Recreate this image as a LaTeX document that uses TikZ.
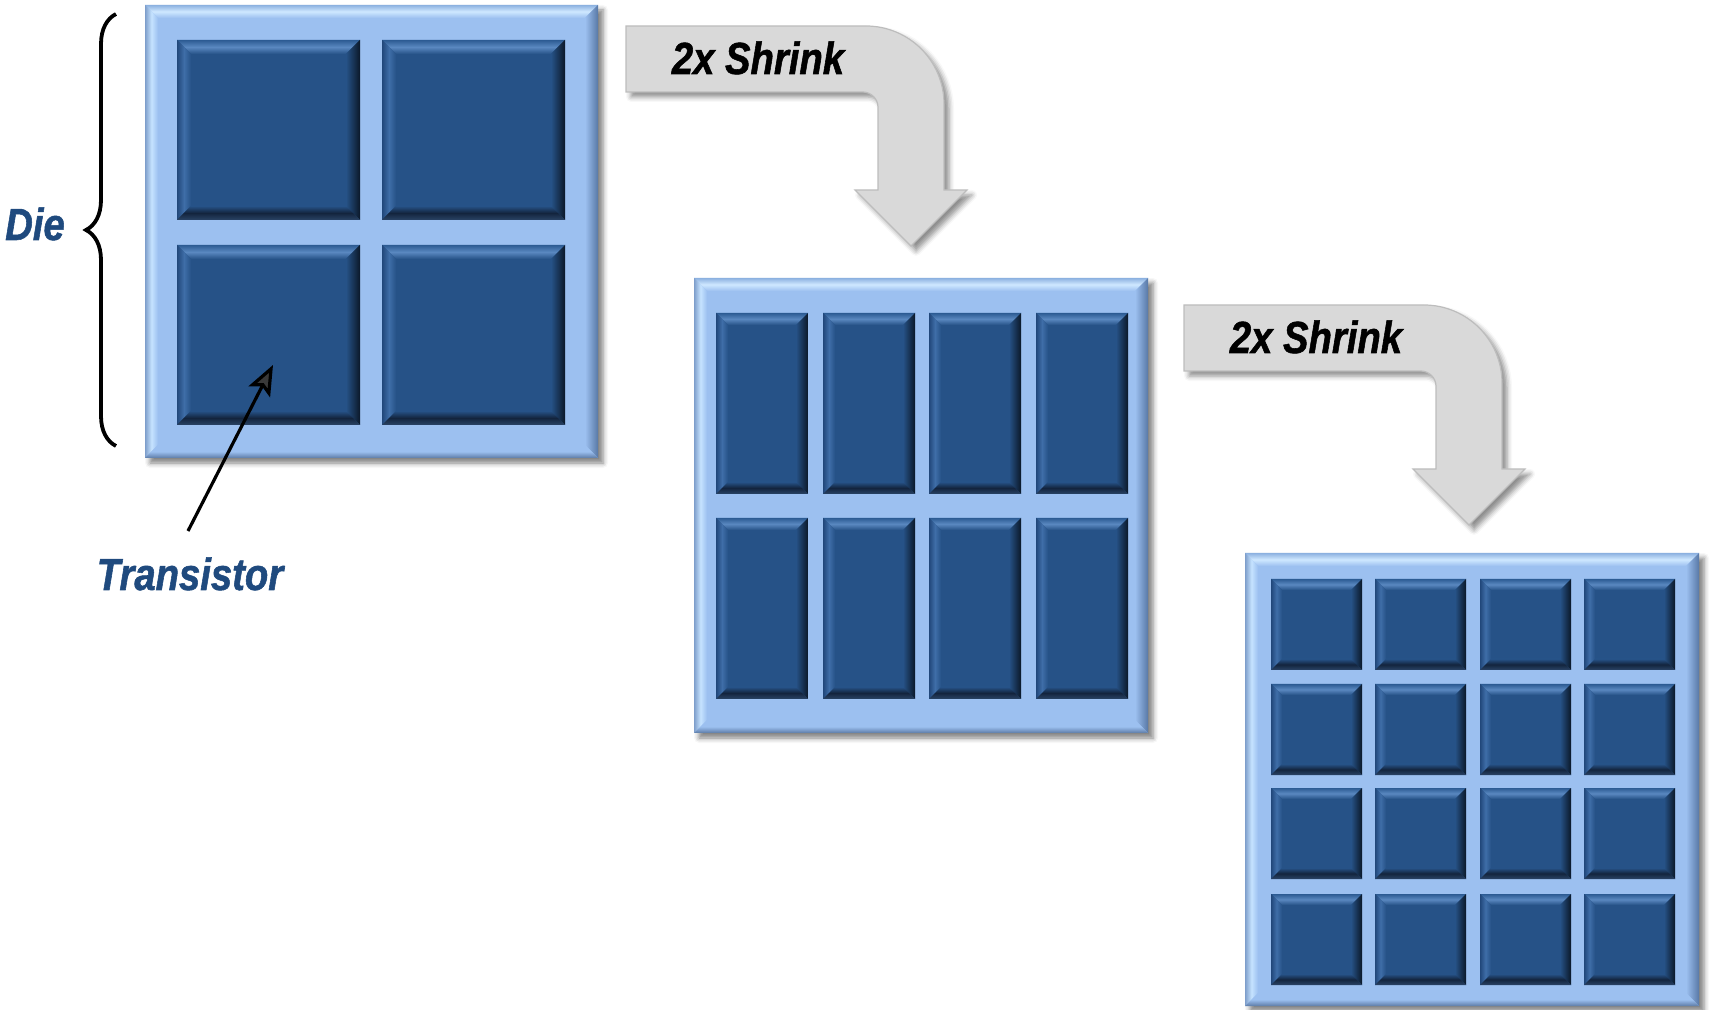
\documentclass[tikz,border=0pt]{standalone}
\usepackage{fontspec}
\newfontfamily\lblfont{Liberation Sans}[FakeStretch=0.85, FakeBold=1.2]
\usetikzlibrary{arrows.meta,decorations.pathreplacing,shadows.blur}

% die frame colours
\definecolor{dieBase}{HTML}{9CC0F0}
\definecolor{dieTopA}{HTML}{8CB1E0}
\definecolor{dieTopB}{HTML}{CFE8FF}
\definecolor{dieLeftA}{HTML}{7E9ECB}
\definecolor{dieLeftB}{HTML}{C6E3FF}
\definecolor{dieRight}{HTML}{5878A6}
\definecolor{dieBotA}{HTML}{9CC0F0}
\definecolor{dieBotB}{HTML}{5C7BA6}
% transistor cell colours
\definecolor{cellBase}{HTML}{265287}
\definecolor{cellTopA}{HTML}{2C5B93}
\definecolor{cellTopB}{HTML}{5A88C0}
\definecolor{cellLeftA}{HTML}{21477A}
\definecolor{cellLeftB}{HTML}{3F6EA8}
\definecolor{cellRight}{HTML}{0B1828}
\definecolor{cellBotA}{HTML}{13243D}
\definecolor{cellBotB}{HTML}{2A4466}
% labels and arrows
\definecolor{lblBlue}{HTML}{1F4A7E}
\definecolor{arrowFill}{HTML}{D9D9D9}
\definecolor{arrowLine}{HTML}{BDBDBD}

\tikzset{
  lbl/.style={font=\lblfont\bfseries\itshape\fontsize{22.5}{27}\selectfont,
              inner sep=0pt, anchor=base},
  shrinkbody/.style={fill=arrowFill, draw=arrowLine, line width=0.6pt,
              blur shadow={shadow xshift=2.5pt, shadow yshift=-2.5pt,
                           shadow blur radius=2.5pt, shadow opacity=45}},
  dieshadow/.style={blur shadow={shadow xshift=2.5pt, shadow yshift=-2.5pt,
                           shadow blur radius=2.5pt, shadow opacity=50}},
}

% bevelled rectangle: x1, y1, x2, y2, bevel width, colour prefix
\newcommand\bevelbox[6]{%
  \fill[#6Base] ({#1},{#2}) rectangle ({#3},{#4});
  \shade[top color=#6TopA, bottom color=#6Base, middle color=#6TopB]
    ({#1},{#2}) -- ({#3},{#2}) -- ({#3-#5},{#2+#5}) -- ({#1+#5},{#2+#5}) -- cycle;
  \shade[left color=#6LeftA, right color=#6Base, middle color=#6LeftB]
    ({#1},{#2}) -- ({#1+#5},{#2+#5}) -- ({#1+#5},{#4-#5}) -- ({#1},{#4}) -- cycle;
  \shade[left color=#6Base, right color=#6Right]
    ({#3},{#2}) -- ({#3},{#4}) -- ({#3-#5},{#4-#5}) -- ({#3-#5},{#2+#5}) -- cycle;
  \shade[top color=#6Base, bottom color=#6BotB, middle color=#6BotA]
    ({#1},{#4}) -- ({#3},{#4}) -- ({#3-#5},{#4-#5}) -- ({#1+#5},{#4-#5}) -- cycle;
}

% die with its drop shadow
\newcommand\die[4]{%
  \fill[dieBase, dieshadow] ({#1},{#2}) rectangle ({#3},{#4});
  \bevelbox{#1}{#2}{#3}{#4}{13}{die}%
}

% bent grey arrow carrying a label
\newcommand\shrinkarrow[1]{%
  \path[shrinkbody]
    (626,26) -- (866,26) .. controls (909,26) and (944,61) .. (944,104)
    -- (944,190) -- (967,190) -- (911,246) -- (855,190) -- (878,190)
    -- (878,107) .. controls (878,99) and (871,92) .. (863,92)
    -- (626,92) -- cycle;
  \node[lbl, text=black] (#1) at (758,74) {2x Shrink};
}

\begin{document}
\begin{tikzpicture}[x=0.5pt, y=-0.5pt]
  \useasboundingbox (0,0) rectangle (1710,1010);

  % first die: 2 x 2 transistors
  \die{145}{5}{598}{458}
  \foreach \cx in {177,382}
    \foreach \cy in {40,245}
      {\bevelbox{\cx}{\cy}{\cx+183}{\cy+180}{14}{cell}}

  % second die: 4 x 2 transistors
  \die{694}{278}{1148}{733}
  \foreach \cx in {716,823,929,1036}
    \foreach \cy in {313,518}
      {\bevelbox{\cx}{\cy}{\cx+92}{\cy+181}{12}{cell}}

  % third die: 4 x 4 transistors
  \die{1245}{553}{1699}{1006}
  \foreach \cx in {1271,1375,1480,1584}
    \foreach \cy in {579,684,788,894}
      {\bevelbox{\cx}{\cy}{\cx+91}{\cy+91}{11}{cell}}

  % shrink arrows
  \shrinkarrow{shrinkA}
  \begin{scope}[shift={(558,279)}]
    \shrinkarrow{shrinkB}
  \end{scope}

  % die brace and label
  \coordinate (braceBot) at (116,446);
  \coordinate (braceTop) at (116,14);
  \draw[line width=1.9pt, decorate, decoration={brace, amplitude=15pt}]
    (braceBot) -- (braceTop);
  \node[lbl, text=lblBlue] (dieLabel) at (35,240) {Die};

  % transistor label and pointer
  \node[lbl, text=lblBlue] (transistor) at (190,590) {Transistor};
  \coordinate (trTail) at (188,531);
  \coordinate (trTip) at (273,365);
  \draw[line width=1.6pt, -{Stealth[length=15pt, width=12pt, inset=3pt]}]
    (trTail) -- (trTip);
\end{tikzpicture}
\end{document}
